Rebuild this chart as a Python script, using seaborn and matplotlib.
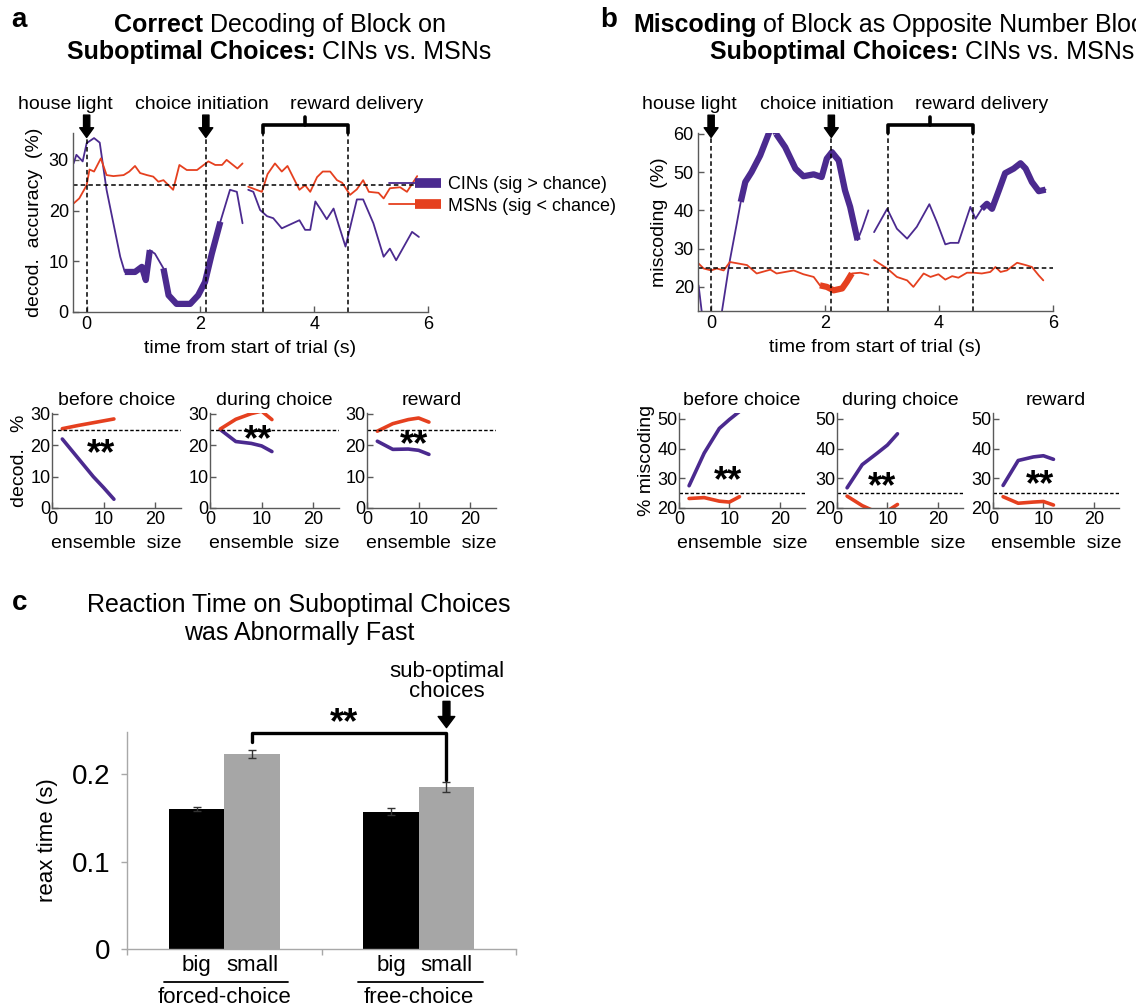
import numpy as np
import pandas as pd
import matplotlib.pyplot as plt
import seaborn as sns
from matplotlib.lines import Line2D
from matplotlib.legend_handler import HandlerTuple

W, H = 1136, 1008
PURPLE = "#4b2a8f"
RED = "#e5401f"
SPINE = "#5a5a5a"

# ---- panel a: correct decoding over time (gap = nan) ----
A_CIN_T = [-0.23, -0.18, -0.07, 0.0, 0.13, 0.23, 0.35, 0.47, 0.59, 0.67, 0.85, 0.97, 1.04,
           1.11, 1.20, 1.35, 1.44, 1.58, 1.82, 1.96, 2.08, 2.20, 2.35, 2.52, 2.64, 2.74,
           2.79, 2.84, 2.93, 3.05, 3.17, 3.28, 3.43, 3.74, 3.84, 3.93, 4.02, 4.12, 4.22,
           4.34, 4.55, 4.75, 4.86, 5.04, 5.22, 5.33, 5.44, 5.72, 5.84]
A_CIN_V = [29.3, 31.0, 29.7, 33.3, 34.3, 33.4, 24.1, 17.5, 10.9, 7.9, 7.9, 8.9, 6.3,
           12.2, 11.5, 8.6, 3.3, 1.6, 1.6, 3.3, 5.9, 11.5, 17.8, 24.1, 23.7, 17.5,
           np.nan, 24.1, 23.7, 20.1, 18.9, 18.5, 16.5, 18.1, 16.2, 16.2, 21.8, 20.1, 18.3,
           20.4, 12.9, 22.2, 22.2, 17.5, 10.9, 12.5, 10.2, 15.8, 14.8]
A_CIN_SIG = [(0.66, 1.12), (1.34, 2.36)]

A_MSN_T = [-0.23, -0.13, 0.0, 0.05, 0.13, 0.25, 0.35, 0.47, 0.65, 0.75, 0.85, 0.94, 1.06,
           1.17, 1.26, 1.35, 1.52, 1.63, 1.76, 1.94, 2.14, 2.26, 2.38, 2.46, 2.65, 2.74,
           2.79, 2.84, 3.08, 3.18, 3.31, 3.43, 3.53, 3.74, 3.84, 3.93, 4.05, 4.15, 4.28,
           4.40, 4.49, 4.63, 4.75, 4.86, 4.96, 5.13, 5.22, 5.33, 5.51, 5.63, 5.81]
A_MSN_V = [21.4, 22.4, 25.0, 28.1, 27.7, 30.3, 27.0, 26.8, 27.0, 27.7, 28.8, 27.4, 27.0,
           26.7, 25.7, 26.0, 24.1, 29.0, 28.0, 28.0, 29.7, 29.0, 29.0, 30.0, 28.3, 29.3,
           np.nan, 24.7, 23.7, 27.2, 29.3, 27.7, 28.8, 24.1, 25.0, 23.7, 26.6, 27.7, 27.7,
           26.0, 25.5, 23.1, 24.2, 26.0, 23.7, 23.5, 22.4, 24.4, 24.6, 23.7, 26.8]
A_MSN_SIG = []

# ---- panel b: miscoding over time ----
B_CIN_T = [-0.22, -0.12, 0.10, 0.33, 0.45, 0.52, 0.60, 0.71, 0.86, 1.01, 1.07, 1.14, 1.30,
           1.48, 1.62, 1.80, 1.94, 2.03, 2.12, 2.24, 2.35, 2.44, 2.57, 2.65, 2.76,
           2.81, 2.86, 3.09, 3.26, 3.44, 3.61, 3.83, 3.96, 4.11, 4.20, 4.34, 4.55, 4.64,
           4.75, 4.84, 4.93, 5.05, 5.16, 5.31, 5.43, 5.52, 5.63, 5.75, 5.87]
B_CIN_V = [20.4, 8.0, 5.0, 27.0, 36.5, 42.2, 47.4, 50.0, 54.3, 60.0, 63.0, 60.0, 56.5,
           50.9, 48.9, 49.4, 48.7, 53.5, 55.2, 53.0, 45.2, 40.9, 32.2, 35.2, 40.0,
           np.nan, 34.3, 40.4, 35.2, 32.6, 35.7, 41.6, 37.0, 31.1, 31.5, 31.5, 40.9, 37.8,
           40.4, 41.7, 40.4, 45.2, 49.7, 50.9, 52.3, 50.9, 47.4, 45.0, 45.4]
B_CIN_SIG = [(0.51, 1.15), (1.13, 2.58), (4.74, 5.9)]

B_MSN_T = [-0.22, -0.13, 0.0, 0.10, 0.22, 0.33, 0.48, 0.63, 0.80, 1.04, 1.15, 1.45, 1.62,
           1.80, 1.91, 2.03, 2.15, 2.30, 2.38, 2.47, 2.62, 2.76,
           2.81, 2.86, 3.09, 3.26, 3.44, 3.55, 3.73, 3.85, 3.99, 4.11, 4.23, 4.34, 4.49,
           4.61, 4.75, 4.90, 4.99, 5.08, 5.19, 5.37, 5.52, 5.63, 5.75, 5.83]
B_MSN_V = [26.1, 24.8, 24.3, 24.8, 24.3, 26.5, 26.1, 25.7, 23.5, 24.5, 23.5, 24.3, 23.3,
           22.6, 20.4, 20.0, 19.1, 19.6, 21.3, 23.5, 23.7, 23.2,
           np.nan, 27.0, 24.8, 22.6, 21.7, 20.0, 23.5, 22.6, 23.3, 21.9, 22.8, 22.4, 23.7,
           23.7, 23.5, 23.9, 25.2, 23.9, 24.3, 26.3, 25.7, 25.2, 23.0, 21.7]
B_MSN_SIG = [(1.90, 2.48)]

# ---- ensemble size panels ----
ENS_SIZE = [2, 5, 8, 10, 12]
PERIODS = ["before choice", "during choice", "reward"]
A_ENS_CIN = [[22.0, 16.0, 10.0, 6.5, 2.8],
             [25.0, 21.2, 20.6, 19.8, 18.0],
             [21.3, 18.7, 18.8, 18.4, 17.1]]
A_ENS_MSN = [[25.3, 26.3, 27.2, 27.8, 28.4],
             [25.2, 28.3, 30.1, 30.9, 28.2],
             [24.5, 26.9, 28.2, 28.7, 27.4]]
B_ENS_CIN = [[27.5, 38.5, 46.8, 49.8, 52.5],
             [26.8, 34.6, 38.5, 41.2, 45.0],
             [27.6, 36.0, 37.2, 37.6, 36.4]]
B_ENS_MSN = [[23.2, 23.5, 22.3, 22.0, 23.8],
             [24.0, 20.8, 18.5, 19.0, 21.2],
             [23.8, 21.6, 22.0, 22.2, 21.0]]
A_STARS = [(9.5, 19.9), (9.3, 24.4), (9.1, 22.8)]
B_STARS = [(9.7, 31.9), (8.9, 29.9), (9.4, 30.4)]

# ---- panel c: reaction time ----
RT_GROUP = ["forced-choice", "forced-choice", "free-choice", "free-choice"]
RT_SIZE = ["big", "small", "big", "small"]
RT_MEAN = [0.160, 0.223, 0.157, 0.185]
RT_SEM = [0.0027, 0.0045, 0.0040, 0.0055]

sns.set_theme(style="ticks")
plt.rcParams["font.family"] = ["Liberation Sans", "DejaVu Sans"]
plt.rcParams["axes.linewidth"] = 1.0
plt.rcParams["text.color"] = "black"
plt.rcParams["axes.labelcolor"] = "black"

fig = plt.figure(figsize=(W / 100, H / 100), dpi=100)


def px_axes(l, t, r, b):
    return fig.add_axes([l / W, 1 - b / H, (r - l) / W, (b - t) / H])


def style(ax, color=SPINE, size=13, direction="in"):
    sns.despine(ax=ax)
    for s in ("left", "bottom"):
        ax.spines[s].set_color(color)
    ax.tick_params(direction=direction, length=4, width=1, color=color,
                   labelsize=size, pad=3, labelcolor="black")
    ax.grid(False)
    ax.set_facecolor("none")


def trace(ax, t, v, color, sig):
    df = pd.DataFrame({"t": t, "v": v})
    df["seg"] = df["v"].isna().cumsum()
    df = df.dropna()
    sns.lineplot(data=df, x="t", y="v", units="seg", estimator=None, sort=False,
                 color=color, lw=1.3, ax=ax)
    for lo, hi in sig:
        sub = df[(df.t >= lo) & (df.t <= hi)]
        sns.lineplot(data=sub, x="t", y="v", units="seg", estimator=None, sort=False,
                     color=color, lw=4.5, ax=ax, solid_capstyle="butt")


def events(ax, cue_x, rew_x):
    for x in list(cue_x) + list(rew_x):
        ax.axvline(x, color="black", ls=(0, (3, 2)), lw=1.1)
    tr = ax.get_xaxis_transform()
    for x in cue_x:
        ax.annotate("", xy=(x, 0.975), xytext=(x, 1.10), xycoords=tr, textcoords=tr,
                    annotation_clip=False,
                    arrowprops=dict(facecolor="black", edgecolor="black", width=4.5,
                                    headwidth=10, headlength=7, shrink=0))
    lo, hi = rew_x
    ax.plot([lo, lo, hi, hi], [1.0, 1.045, 1.045, 1.0], transform=tr, color="black",
            lw=2.6, clip_on=False, solid_joinstyle="round")
    mid = (lo + hi) / 2
    ax.plot([mid, mid], [1.045, 1.09], transform=tr, color="black", lw=2.6, clip_on=False)
    ax.text(0.45, 1.16, "house light", transform=tr, ha="right", va="center", fontsize=14)
    ax.text(2.03, 1.16, "choice initiation", transform=tr, ha="center", va="center", fontsize=14)
    ax.text(4.74, 1.16, "reward delivery", transform=tr, ha="center", va="center", fontsize=14)


def rich(x_px, y_px, parts, size, align="center"):
    r = fig.canvas.get_renderer()
    objs = [fig.text(0, 0, s, fontsize=size, fontweight=w, va="center", ha="left")
            for s, w in parts]
    widths = [o.get_window_extent(r).width for o in objs]
    x0 = x_px - sum(widths) / 2 if align == "center" else x_px
    for o, w in zip(objs, widths):
        o.set_position((x0 / W, 1 - y_px / H))
        x0 += w


# ================= panel a main =================
ax_a = px_axes(73, 133, 428, 312)
trace(ax_a, A_CIN_T, A_CIN_V, PURPLE, A_CIN_SIG)
trace(ax_a, A_MSN_T, A_MSN_V, RED, A_MSN_SIG)
ax_a.axhline(25, color="black", ls=(0, (3, 2)), lw=1.1)
ax_a.set_xlim(-0.24, 6)
ax_a.set_ylim(0, 35.3)
ax_a.set_xticks([0, 2, 4, 6])
ax_a.set_yticks([0, 10, 20, 30])
style(ax_a)
events(ax_a, [0, 2.095], (3.1, 4.59))
ax_a.set_xlabel("time from start of trial (s)", fontsize=14, labelpad=5)
ax_a.set_ylabel("decod.  accuracy  (%)", fontsize=14, labelpad=4)

thin_p = Line2D([], [], color=PURPLE, lw=1.3)
thick_p = Line2D([], [], color=PURPLE, lw=7, solid_capstyle="butt")
thin_r = Line2D([], [], color=RED, lw=1.3)
thick_r = Line2D([], [], color=RED, lw=7, solid_capstyle="butt")
fig.legend([(thin_p, thick_p), (thin_r, thick_r)],
           ["CINs (sig > chance)", "MSNs (sig < chance)"],
           handler_map={tuple: HandlerTuple(ndivide=None, pad=0)},
           loc="upper left", bbox_to_anchor=(389 / W, 1 - 176 / H), frameon=False,
           fontsize=13, handlelength=2.9, handletextpad=0.35, labelspacing=0.25,
           borderpad=0, borderaxespad=0)

# ================= panel b main =================
ax_b = px_axes(698, 133, 1053, 311)
trace(ax_b, B_CIN_T, B_CIN_V, PURPLE, B_CIN_SIG)
trace(ax_b, B_MSN_T, B_MSN_V, RED, B_MSN_SIG)
ax_b.axhline(25, color="black", ls=(0, (3, 2)), lw=1.1)
ax_b.set_xlim(-0.23, 6)
ax_b.set_ylim(13.7, 60.2)
ax_b.set_xticks([0, 2, 4, 6])
ax_b.set_yticks([20, 30, 40, 50, 60])
style(ax_b)
events(ax_b, [0, 2.11], (3.11, 4.59))
ax_b.set_xlabel("time from start of trial (s)", fontsize=14, labelpad=5)
ax_b.set_ylabel("miscoding  (%)", fontsize=14, labelpad=4)


# ================= ensemble panels =================
def ens_panel(left, width, cin, msn, ylim, yticks, title, star):
    ax = px_axes(left, 413, left + width, 508)
    df = pd.DataFrame({"n": ENS_SIZE * 2, "v": cin + msn,
                       "cell": ["CIN"] * len(ENS_SIZE) + ["MSN"] * len(ENS_SIZE)})
    sns.lineplot(data=df, x="n", y="v", hue="cell", palette=[PURPLE, RED],
                 lw=2.6, ax=ax, legend=False)
    ax.axhline(25, color="black", ls=(0, (2.5, 1.5)), lw=1.0)
    ax.set_xlim(0, 25)
    ax.set_ylim(*ylim)
    ax.set_xticks([0, 10, 20])
    ax.set_yticks(yticks)
    style(ax, size=13)
    ax.tick_params(axis="y", pad=1)
    ax.tick_params(axis="x", pad=2)
    ax.set_title(title, fontsize=14, pad=6)
    ax.set_xlabel("ensemble  size", fontsize=14, labelpad=5)
    ax.set_ylabel("")
    ax.text(star[0], star[1], "**", fontsize=26, fontweight="bold", ha="center",
            va="center")
    return ax


for i, left in enumerate([52, 210, 367]):
    ax = ens_panel(left, 129, A_ENS_CIN[i], A_ENS_MSN[i], (0, 30.3), [0, 10, 20, 30],
                   PERIODS[i], (A_STARS[i][0], A_STARS[i][1] - 3))
    if i == 0:
        ax.set_ylabel("decod.   %", fontsize=14, labelpad=2)

for i, left in enumerate([679, 837, 993]):
    ax = ens_panel(left, 126, B_ENS_CIN[i], B_ENS_MSN[i], (20, 52), [20, 30, 40, 50],
                   PERIODS[i], (B_STARS[i][0], B_STARS[i][1] - 3))
    if i == 0:
        ax.set_ylabel("% miscoding", fontsize=14, labelpad=2)

# ================= panel c =================
ax_c = px_axes(127, 732, 516, 949)
rt = pd.DataFrame({"group": RT_GROUP, "size": RT_SIZE, "rt": RT_MEAN})
sns.barplot(data=rt, x="group", y="rt", hue="size", palette=["black", "#a6a6a6"],
            width=0.57, errorbar=None, saturation=1, legend=False, ax=ax_c)
bars = sorted(ax_c.patches, key=lambda p: p.get_x())
xc = [p.get_x() + p.get_width() / 2 for p in bars]
hc = [p.get_height() for p in bars]
for p in bars:
    p.set_edgecolor("none")
ax_c.errorbar(xc, hc, yerr=RT_SEM, fmt="none", ecolor="#333333", elinewidth=1,
              capsize=3, capthick=1)
ax_c.set_xlim(-0.5, 1.5)
ax_c.set_ylim(0, 0.248)
ax_c.set_yticks([0, 0.1, 0.2], labels=["0", "0.1", "0.2"])
ax_c.set_xticks([-0.5, 0.5, 1.5], labels=["", "", ""])
style(ax_c, color="#a8a8a8", size=20, direction="out")
ax_c.tick_params(axis="y", pad=8)
ax_c.set_xlabel("")
ax_c.set_ylabel("reax time (s)", fontsize=16, labelpad=10)

trc = ax_c.get_xaxis_transform()
for x, lab in zip(xc, RT_SIZE):
    ax_c.text(x, -0.075, lab, transform=trc, ha="center", va="center", fontsize=16)
for g, name in enumerate(["forced-choice", "free-choice"]):
    ax_c.plot([g - 0.31, g + 0.33], [-0.152, -0.152], transform=trc, color="black",
              lw=1.3, clip_on=False)
    ax_c.text(g, -0.222, name, transform=trc, ha="center", va="center", fontsize=16)

# significance bracket
ax_c.plot([xc[1], xc[1], xc[3], xc[3]], [hc[1] + 0.014, 0.2465, 0.2465, hc[3] + 0.008],
          color="black", lw=2.4, clip_on=False, solid_joinstyle="round")
ax_c.text(0.615, 0.257, "**", fontsize=26, fontweight="bold", ha="center", va="center")
ax_c.annotate("", xy=(xc[3], 0.253), xytext=(xc[3], 0.283), annotation_clip=False,
              arrowprops=dict(facecolor="black", edgecolor="black", width=5,
                              headwidth=12, headlength=8, shrink=0))
ax_c.text(xc[3], 0.306, "sub-optimal\nchoices", ha="center", va="center", fontsize=16,
          linespacing=0.95)

# ================= titles =================
fig.text(19 / W, 1 - 20 / H, "a", fontsize=20, fontweight="bold", va="center", ha="center")
rich(280, 25, [("Correct", "bold"), (" Decoding of Block on", "normal")], 18)
rich(279, 52, [("Suboptimal Choices:", "bold"), (" CINs vs. MSNs", "normal")], 18)

fig.text(609 / W, 1 - 20 / H, "b", fontsize=20, fontweight="bold", va="center", ha="center")
rich(633, 25, [("Miscoding", "bold"), (" of Block as Opposite Number Block on", "normal")],
     18, align="left")
rich(922, 52, [("Suboptimal Choices:", "bold"), (" CINs vs. MSNs", "normal")], 18)

fig.text(20 / W, 1 - 603 / H, "c", fontsize=20, fontweight="bold", va="center", ha="center")
fig.text(299 / W, 1 - 605 / H, "Reaction Time on Suboptimal Choices", fontsize=18,
         ha="center", va="center")
fig.text(299 / W, 1 - 633 / H, "was Abnormally Fast", fontsize=18, ha="center", va="center")

fig.savefig("out.png", dpi=100)
